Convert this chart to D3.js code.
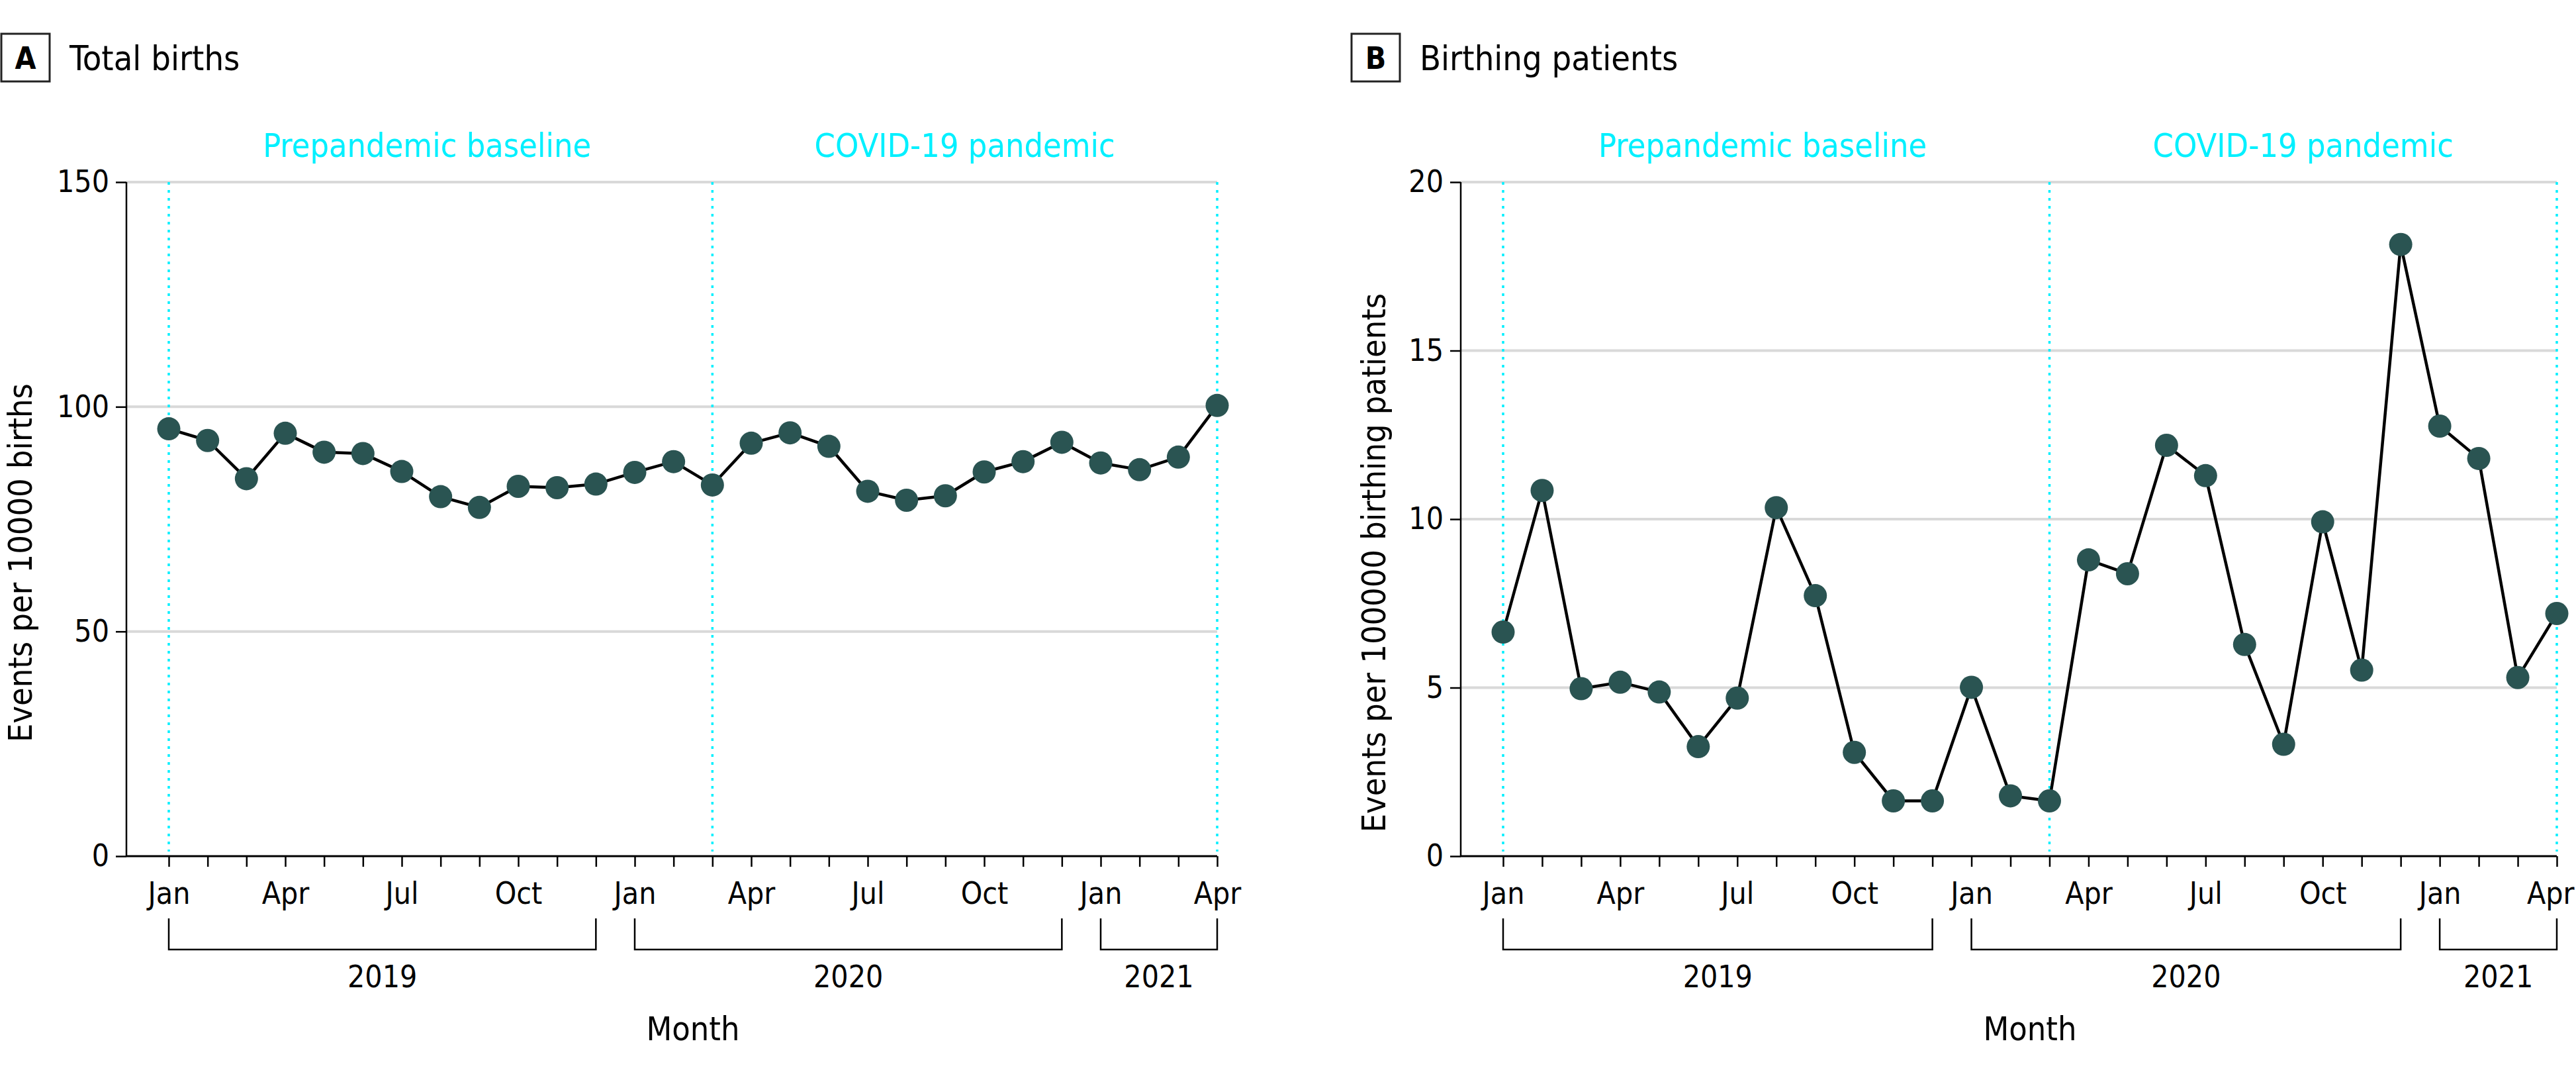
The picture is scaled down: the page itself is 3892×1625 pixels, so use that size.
<!DOCTYPE html>
<html lang="en">
<head>
<meta charset="UTF-8">
<title>Events per births, 2019-2021</title>
<script src="https://d3js.org/d3.v7.min.js"></script>
<style>
  body { margin: 0; background: #fff; }
  svg text { font-family: "Liberation Sans Narrow", "DejaVu Sans Condensed", sans-serif; font-stretch: condensed; fill: #000; }
</style>
</head>
<body>
<script>
// months on the x axis (Jan 2019 .. Apr 2021)
var months = ["2019-01","2019-02","2019-03","2019-04","2019-05","2019-06","2019-07","2019-08","2019-09","2019-10","2019-11","2019-12",
              "2020-01","2020-02","2020-03","2020-04","2020-05","2020-06","2020-07","2020-08","2020-09","2020-10","2020-11","2020-12",
              "2021-01","2021-02","2021-03","2021-04"];
var monthNames = ["Jan","Feb","Mar","Apr","May","Jun","Jul","Aug","Sep","Oct","Nov","Dec"];
var labelledMonths = ["Jan","Apr","Jul","Oct"];

// panel A: events per 10000 births
var totalBirths = [95.1, 92.5, 84.0, 94.1, 89.9, 89.6, 85.6, 80.0, 77.6, 82.3, 82.0, 82.8,
                   85.4, 87.8, 82.6, 91.9, 94.2, 91.2, 81.2, 79.2, 80.2, 85.5, 87.8, 92.1,
                   87.5, 86.0, 88.8, 100.3];
// panel B: events per 100000 birthing patients
var birthingPatients = [6.65, 10.85, 4.97, 5.16, 4.87, 3.25, 4.69, 10.34, 7.73, 3.08, 1.64, 1.64,
                        5.01, 1.79, 1.64, 8.79, 8.38, 12.19, 11.29, 6.28, 3.32, 9.92, 5.52, 18.15,
                        12.76, 11.80, 5.30, 7.20];

var yTicksA = [0, 50, 100, 150];
var yTicksB = [0, 5, 10, 15, 20];

var years = [
  { label: "2019", from: "2019-01", to: "2019-12" },
  { label: "2020", from: "2020-01", to: "2020-12" },
  { label: "2021", from: "2021-01", to: "2021-04" }
];
var periods = [
  { label: "Prepandemic baseline", from: "2019-01", to: "2020-03" },
  { label: "COVID-19 pandemic", from: "2020-03", to: "2021-04" }
];
var markers = ["2019-01", "2020-03", "2021-04"];

var width = 3892, height = 1625;
var yTop = 275, yBottom = 1293;

var svg = d3.select("body").append("svg")
    .attr("width", width)
    .attr("height", height);

var panels = [
  { letter: "A", title: "Total births", values: totalBirths, ticks: yTicksA,
    yTitle: "Events per 10000 births", boxX: 2, axisX: 191, x0: 255, x1: 1839, yTitleX: 30 },
  { letter: "B", title: "Birthing patients", values: birthingPatients, ticks: yTicksB,
    yTitle: "Events per 100000 birthing patients", boxX: 2042, axisX: 2207, x0: 2271, x1: 3863, yTitleX: 2075 }
];

panels.forEach(function(p) {
  var g = svg.append("g");

  var x = d3.scalePoint().domain(months).range([p.x0, p.x1]);
  var y = d3.scaleLinear().domain([0, d3.max(p.ticks)]).range([yBottom, yTop]);

  // panel letter box + title
  g.append("rect")
    .attr("x", p.boxX).attr("y", 51)
    .attr("width", 73).attr("height", 72)
    .attr("fill", "none").attr("stroke", "#222").attr("stroke-width", 3);
  g.append("text")
    .attr("x", p.boxX + 36.5).attr("y", 104)
    .attr("text-anchor", "middle")
    .style("font-size", "46px").style("font-weight", "bold")
    .text(p.letter);
  g.append("text")
    .attr("x", p.boxX + 103).attr("y", 106)
    .style("font-size", "52px")
    .text(p.title);

  // gridlines
  g.selectAll(".grid")
    .data(p.ticks.filter(function(d) { return d > 0; }))
    .enter().append("line")
    .attr("x1", p.axisX).attr("x2", p.x1)
    .attr("y1", function(d) { return y(d); })
    .attr("y2", function(d) { return y(d); })
    .attr("stroke", "#d9d9d9").attr("stroke-width", 4);

  // cyan dotted period markers
  g.selectAll(".marker")
    .data(markers)
    .enter().append("line")
    .attr("x1", function(d) { return x(d); })
    .attr("x2", function(d) { return x(d); })
    .attr("y1", yTop).attr("y2", yBottom - 7)
    .attr("stroke", "#00f0ff").attr("stroke-width", 3.5)
    .attr("stroke-dasharray", "4,8");

  g.selectAll(".period")
    .data(periods)
    .enter().append("text")
    .attr("x", function(d, i) {
      // the baseline label sits a little left of its span centre
      return (x(d.from) + x(d.to)) / 2 - (i === 0 ? 0.35 * x.step() : 0);
    })
    .attr("y", 237)
    .attr("text-anchor", "middle")
    .style("font-size", "50px")
    .style("fill", "#00f0ff")
    .text(function(d) { return d.label; });

  // y axis
  var yAxis = g.append("g")
    .attr("transform", "translate(" + p.axisX + ",0)")
    .call(d3.axisLeft(y).tickValues(p.ticks).tickSize(16).tickPadding(10).tickSizeOuter(0));
  yAxis.select(".domain").remove();
  yAxis.selectAll("line").attr("stroke", "#000").attr("stroke-width", 2.5);
  yAxis.selectAll("text").style("font-size", "46px").attr("font-family", null);
  g.append("line")
    .attr("x1", p.axisX).attr("x2", p.axisX)
    .attr("y1", yTop).attr("y2", yBottom)
    .attr("stroke", "#000").attr("stroke-width", 2.5);

  g.append("text")
    .attr("transform", "translate(" + p.yTitleX + ",850) rotate(-90)")
    .attr("text-anchor", "middle")
    .attr("dy", "0.35em")
    .style("font-size", "50px")
    .text(p.yTitle);

  // x axis
  var xAxis = g.append("g")
    .attr("transform", "translate(0," + yBottom + ")")
    .call(d3.axisBottom(x).tickSize(16).tickPadding(23).tickSizeOuter(0)
      .tickFormat(function(d) {
        var m = monthNames[+d.slice(5) - 1];
        return labelledMonths.indexOf(m) >= 0 ? m : "";
      }));
  xAxis.select(".domain").remove();
  xAxis.selectAll("line").attr("stroke", "#000").attr("stroke-width", 2.5);
  xAxis.selectAll("text").style("font-size", "46px").attr("font-family", null);
  // keep the last label inside the picture
  xAxis.selectAll("text").each(function(d) {
    var bb = this.getBBox();
    var right = x(d) + bb.x + bb.width;
    if (right > width - 2) d3.select(this).attr("x", width - 2 - right);
  });
  g.append("line")
    .attr("x1", p.axisX).attr("x2", p.x1)
    .attr("y1", yBottom).attr("y2", yBottom)
    .attr("stroke", "#000").attr("stroke-width", 3);

  // year brackets
  g.selectAll(".bracket")
    .data(years)
    .enter().append("path")
    .attr("d", function(d) {
      return "M" + x(d.from) + ",1387V1434H" + x(d.to) + "V1387";
    })
    .attr("fill", "none").attr("stroke", "#000").attr("stroke-width", 2.5);
  g.selectAll(".year")
    .data(years)
    .enter().append("text")
    .attr("x", function(d) { return (x(d.from) + x(d.to)) / 2; })
    .attr("y", 1491)
    .attr("text-anchor", "middle")
    .style("font-size", "46px")
    .text(function(d) { return d.label; });

  g.append("text")
    .attr("x", (p.x0 + p.x1) / 2).attr("y", 1571)
    .attr("text-anchor", "middle")
    .style("font-size", "50px")
    .text("Month");

  // series
  var line = d3.line()
    .x(function(d, i) { return x(months[i]); })
    .y(function(d) { return y(d); });
  g.append("path")
    .datum(p.values)
    .attr("d", line)
    .attr("fill", "none").attr("stroke", "#000").attr("stroke-width", 4.5)
    .attr("stroke-linejoin", "round");
  g.selectAll(".dot")
    .data(p.values)
    .enter().append("circle")
    .attr("cx", function(d, i) { return x(months[i]); })
    .attr("cy", function(d) { return y(d); })
    .attr("r", 17.5)
    .attr("fill", "#2a5452");
});
</script>
</body>
</html>
